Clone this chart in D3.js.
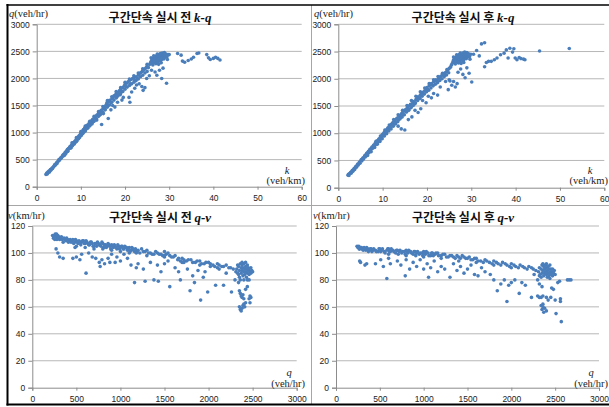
<!DOCTYPE html>
<html>
<head>
<meta charset="utf-8">
<script src="https://cdn.jsdelivr.net/npm/d3@7"></script>
<style>
  body { margin: 0; background: #fff; }
  svg { display: block; }
  .tick-lbl { font-family: "Liberation Sans", Arial, sans-serif; font-size: 8.5px; fill: #222; }
  .ttl { font-family: "Noto Sans CJK KR", sans-serif; font-size: 12px; font-weight: bold; fill: #111; }
  .unit { font-family: "Liberation Serif", serif; font-size: 10.5px; fill: #222; }
</style>
</head>
<body>
<div id="chart"></div>
<script>
// tick values
const kTicks = [0, 10, 20, 30, 40, 50, 60];
const qTicks = [0, 500, 1000, 1500, 2000, 2500, 3000];
const vTicks = [0, 20, 40, 60, 80, 100, 120];

// k (veh/km), q (veh/hr) before
const kqBefore = [
  [2.1,225],[2.2,240],[2.3,250],[2.4,235],[2.5,260],[2.6,275],[2.8,290],[2.9,270],[3.0,300],[3.1,315],[3.2,305],[3.4,330],
  [3.5,345],[3.6,335],[3.7,360],[3.9,375],[4.0,390],[4.1,410],[4.2,395],[4.4,425],[4.5,440],[4.6,430],[4.7,460],[4.9,470],
  [5.0,490],[5.1,505],[5.2,495],[5.4,520],[5.5,540],[5.6,530],[5.8,560],[5.9,575],[6.0,590],[6.1,570],[6.2,605],[6.4,620],
  [6.5,640],[6.6,615],[6.8,660],[6.9,675],[7.0,690],[7.1,665],[7.2,705],[7.4,720],[7.5,735],[7.6,710],[7.7,750],[7.9,765],
  [8.0,780],[8.1,755],[8.2,800],[8.3,815],[8.4,790],[8.6,830],[8.7,845],[8.8,820],[8.9,860],[9.0,880],[9.1,850],[9.2,895],
  [9.3,910],[9.4,880],[9.5,925],[9.6,940],[9.7,910],[9.8,955],[9.9,970],[10.0,990],[10.1,950],[10.2,1005],[10.3,1020],
  [10.4,985],[10.5,1040],[10.6,1055],[10.7,1010],[10.8,1070],[10.9,1085],[11.0,1100],[11.1,1050],[11.2,1110],[11.3,1125],
  [11.5,1140],[11.6,1090],[11.8,1160],[12.0,1180],[12.1,1140],[12.3,1200],[12.5,1225],[12.7,1245],[12.8,1200],[13.0,1270],
  [13.2,1290],[13.4,1250],[13.5,1310],[13.7,1330],[14.0,1360],[14.2,1320],[14.4,1390],[14.6,1410],[14.8,1370],[15.0,1440],
  [15.2,1460],[15.4,1480],[15.5,1430],[15.7,1510],[15.9,1540],[16.0,1560],[16.2,1500],[16.3,1580],[16.5,1595],[16.8,1550],
  [17.0,1620],[17.3,1650],[17.5,1680],[17.8,1690],[18.0,1720],[18.2,1660],[18.4,1740],[18.7,1770],[19.0,1800],[19.2,1760],
  [19.5,1830],[19.8,1860],[20.0,1890],[20.2,1850],[20.4,1910],[20.7,1940],[21.0,1960],[21.2,1900],[21.4,1980],[21.7,2000],
  [22.0,2010],[22.2,1960],[22.5,2030],[22.8,2000],[23.0,2060],[23.3,2090],[23.6,2110],[23.9,2130],[24.2,2150],[24.5,2180],
  [24.8,2200],[25.0,2230],
  [6.3,580],[7.0,650],[7.8,720],[8.5,790],[9.0,840],[9.5,890],[10.0,940],[10.5,990],[11.0,1030],[11.5,1080],[12.0,1120],
  [12.5,1170],[13.0,1210],[13.5,1260],[14.0,1300],[14.5,1340],[15.0,1380],[15.5,1420],[16.0,1470],[16.5,1510],[17.0,1560],
  [17.5,1600],[18.0,1640],[18.5,1690],[19.0,1720],[19.5,1760],[20.0,1800],[20.5,1840],[21.0,1870],[21.5,1900],[22.0,1930],
  [22.5,1960],[23.0,1990],[23.5,2030],[24.0,2060],[24.5,2100],[25.0,2130],
  [8.0,810],[9.0,910],[10.0,1020],[11.0,1120],[12.0,1210],[13.0,1300],[14.0,1390],[15.0,1480],[16.0,1590],[17.0,1660],
  [18.0,1760],[19.0,1830],[20.0,1930],[21.0,1990],[22.0,2050],[23.0,2100],[24.0,2180],[25.0,2260],[25.3,2200],
  [12.5,1160],[13.6,1230],[14.7,1150],[15.1,1350],[16.2,1260],[16.8,1420],[17.2,1500],[17.7,1470],[18.3,1560],[18.9,1700],
  [19.3,1600],[19.6,1650],[20.9,1650],[21.1,1560],[21.5,1750],[22.2,1820],[22.6,1880],[23.2,1900],[23.8,1850],[24.1,1780],
  [24.5,1830],[24.9,2000],[25.5,2050],[26.8,2120],[27.2,2060],[27.8,2150],[28.3,2000],[28.6,2190],[29.4,1910],[26.0,2150],
  [25.6,2260],[25.8,2300],[26.0,2330],[26.1,2280],[26.2,2360],[26.4,2310],[26.5,2380],[26.6,2340],[26.7,2290],[26.8,2400],
  [26.9,2350],[27.0,2320],[27.1,2420],[27.2,2380],[27.3,2340],[27.4,2300],[27.5,2440],[27.6,2400],[27.7,2360],[27.8,2420],
  [27.9,2330],[28.0,2460],[28.1,2390],[28.2,2430],[28.3,2350],[28.4,2470],[28.5,2410],[28.6,2380],[28.7,2440],[28.8,2360],
  [28.9,2480],[29.0,2420],[29.1,2390],[29.3,2450],[29.5,2400],[26.3,2250],[27.0,2270],[27.6,2260],[28.2,2290],[25.9,2380],
  [26.5,2420],[27.3,2450],[28.0,2320],[29.6,2350],[29.8,2440],[30.0,2440],
  [31.9,2460],[32.7,2430],[33.0,2320],[33.5,2300],[34.3,2330],[35.0,2360],[35.5,2390],[36.3,2460],[36.7,2470],[38.5,2440],
  [38.9,2380],[39.3,2350],[40.0,2370],[40.5,2390],[41.0,2370],[41.5,2340]
];

// k, q after
const kqAfter = [
  [2.2,230],[2.3,245],[2.4,225],[2.5,255],[2.7,270],[2.8,285],[2.9,265],[3.1,305],[3.2,320],[3.3,300],[3.5,340],[3.6,355],
  [3.7,335],[3.9,380],[4.0,395],[4.1,375],[4.3,420],[4.4,435],[4.5,415],[4.7,455],[4.8,470],[4.9,450],[5.1,500],[5.2,515],
  [5.3,490],[5.5,535],[5.6,550],[5.7,525],[5.9,575],[6.0,590],[6.1,565],[6.3,615],[6.4,630],[6.5,605],[6.7,650],[6.8,670],
  [6.9,640],[7.1,695],[7.2,710],[7.3,680],[7.5,730],[7.6,745],[7.7,720],[7.9,770],[8.0,785],[8.1,760],[8.3,805],[8.4,825],
  [8.5,795],[8.7,845],[8.8,860],[8.9,830],[9.1,885],[9.2,900],[9.3,870],[9.5,920],[9.6,940],[9.7,905],[9.9,960],[10.0,980],
  [10.1,950],[10.3,1005],[10.4,1020],[10.5,990],[10.7,1045],[10.8,1060],[10.9,1025],[11.1,1080],[11.2,1100],[11.3,1060],
  [11.5,1120],[11.7,1140],[11.8,1100],[12.0,1165],[12.2,1185],[12.3,1140],[12.5,1210],[12.7,1230],[12.9,1190],[13.1,1260],
  [13.3,1280],[13.5,1240],[13.7,1310],[13.9,1330],[14.1,1290],[14.3,1360],[14.5,1380],[14.7,1340],[14.9,1410],[15.1,1430],
  [15.3,1395],[15.5,1460],[15.7,1480],[15.9,1440],[16.1,1510],[16.3,1530],[16.5,1490],[16.8,1560],[17.0,1580],[17.3,1540],
  [17.5,1620],[17.8,1650],[18.0,1670],[18.3,1640],[18.5,1700],[18.8,1730],[19.0,1750],[19.3,1720],[19.5,1780],[19.8,1810],
  [20.0,1840],[20.3,1800],[20.5,1870],[20.8,1890],[21.0,1910],[21.3,1880],[21.5,1940],[21.8,1960],[22.0,1980],[22.3,1950],
  [22.6,2000],[22.9,2030],[23.2,2050],[23.5,2070],[23.8,2090],[24.1,2110],[24.4,2130],[24.7,2160],[25.0,2190],[25.3,2210],
  [6.6,590],[7.4,660],[8.2,740],[8.8,800],[9.4,850],[9.9,900],[10.4,950],[10.9,990],[11.4,1040],[11.9,1080],[12.4,1130],
  [12.9,1170],[13.4,1210],[13.9,1260],[14.4,1300],[14.9,1340],[15.4,1390],[15.9,1420],[16.4,1470],[16.9,1510],[17.4,1560],
  [17.9,1600],[18.4,1640],[18.9,1680],[19.4,1720],[19.9,1760],[20.4,1790],[20.9,1830],[21.4,1870],[21.9,1900],[22.4,1930],
  [22.9,1970],[23.4,2000],[23.9,2040],[24.4,2070],[24.9,2110],
  [8.5,850],[9.5,950],[10.5,1060],[11.5,1150],[12.5,1250],[13.5,1340],[14.5,1420],[15.5,1510],[16.5,1600],[17.5,1680],
  [18.5,1760],[19.5,1830],[20.5,1910],[21.5,1980],[22.5,2040],[23.5,2100],[24.5,2170],[25.5,2250],
  [13.5,1130],[14.2,1080],[15.0,1060],[15.8,1250],[16.6,1300],[17.3,1420],[18.0,1380],[18.6,1450],[19.0,1600],[19.8,1560],
  [20.3,1680],[21.0,1650],[21.5,1730],[22.4,1700],[23.0,1850],[24.2,1950],[24.8,1800],[25.2,1960],[25.6,1880],[26.0,1950],
  [26.4,1850],[27.0,2120],[27.6,2180],[28.1,2080],[28.6,2020],[29.0,2200],[30.1,1940],[29.5,2100],[25.0,1980],[26.8,1910],
  [25.7,2280],[25.9,2320],[26.0,2350],[26.2,2300],[26.3,2380],[26.5,2340],[26.6,2400],[26.7,2360],[26.8,2310],[26.9,2420],
  [27.0,2370],[27.1,2330],[27.2,2440],[27.3,2390],[27.4,2350],[27.5,2310],[27.6,2450],[27.7,2410],[27.8,2370],[27.9,2430],
  [28.0,2340],[28.1,2470],[28.2,2400],[28.3,2440],[28.4,2360],[28.5,2490],[28.6,2420],[28.7,2390],[28.8,2450],[28.9,2370],
  [29.0,2480],[29.1,2430],[29.2,2400],[29.4,2460],[29.6,2410],[26.4,2270],[27.1,2290],[27.7,2280],[28.3,2300],[26.0,2400],
  [26.7,2440],[27.5,2470],[28.2,2330],[29.7,2360],[29.9,2450],
  [30.5,2450],[31.2,2520],[31.8,2420],[32.3,2640],[33.0,2660],[33.0,2220],[33.4,2300],[33.9,2320],[34.5,2320],[35.2,2350],
  [35.8,2380],[36.6,2440],[37.4,2470],[37.9,2530],[38.3,2380],[38.7,2560],[39.3,2490],[39.6,2550],[39.9,2380],[40.3,2350],
  [40.8,2390],[41.2,2370],[41.8,2360],[42.1,2350],[45.4,2510],[52.1,2555]
];

// q (veh/hr), v (km/hr) before
const qvBefore = [
  [230,113],[240,111],[250,113],[260,114],[270,112],[280,110],[290,113],[300,112],[310,110],[320,111],[340,110],[360,111],
  [380,109],[400,110],[420,109],[440,108],[460,110],[480,108],[500,109],[520,107],[540,108],[560,108],[580,109],[600,107],
  [620,108],[640,106],[660,108],[680,107],[700,105],[720,107],[740,108],[760,106],[780,105],[800,107],[820,106],[840,104],
  [860,107],[880,105],[900,106],[920,104],[940,105],[960,103],[980,105],[1000,104],[1020,105],[1040,103],[1060,104],
  [1080,102],[1100,104],[1120,102],[1140,103],[1160,101],[1180,100],[1200,102],[1240,103],[1280,101],[1320,100],[1360,99],
  [1400,101],[1440,99],[1480,98],[1500,101],[1520,99],[1560,98],[1600,97],[1650,95],[1700,96],[1750,94],[1800,95],
  [1850,93],[1900,94],[1950,92],[2000,93],[2050,91],[2100,92],[2150,90],[2200,91],[2250,89],
  [255,110],[275,114],[295,111],[330,112],[350,108],[370,110],[390,111],[410,108],[430,110],[450,109],[470,107],[490,110],
  [510,108],[530,109],[550,106],[570,109],[590,107],[610,109],[630,107],[650,106],[670,108],[690,105],[710,107],[730,105],
  [750,107],[770,106],[790,108],[810,104],[830,106],[850,105],[870,106],[890,103],[910,105],[930,106],[950,104],[970,106],
  [990,103],[1010,105],[1030,103],[1050,105],[1070,104],[1090,103],[1110,101],[1130,104],[1150,102],[1170,103],[1190,101],
  [1220,100],[1260,101],[1300,102],[1340,100],[1380,99],[1420,100],[1460,99],[1500,98],[1540,100],[1580,97],[1620,98],
  [1660,96],[1680,94],[1720,95],[1770,95],[1820,93],[1870,94],[1920,92],[1970,93],[2020,92],[2070,90],[2120,91],[2170,90],
  [2230,89],[2280,88],
  [500,105],[700,103],[900,102],[1100,100],[1300,98],[1500,97],[1700,93],[1900,91],[2100,89],[600,104],[800,103],[1000,101],
  [270,103],[290,100],[310,97],[350,96],[460,96],[485,104],[500,97],[540,95],[560,99],[610,85],[640,100],[680,97],[720,96],
  [760,93],[770,90],[790,95],[820,92],[860,96],[880,93],[900,99],[940,93],[960,97],[1000,94],[1040,99],[1080,96],[1120,91],
  [1160,78],[1180,89],[1200,92],[1260,88],[1280,79],[1340,93],[1380,80],[1420,91],[1430,79],[1460,86],[1500,92],[1540,94],
  [1560,75],[1620,89],[1660,86],[1680,80],[1720,93],[1760,88],[1790,72],[1820,83],[1840,78],[1880,87],[1910,65],[1940,82],
  [1960,86],[1990,71],[2020,90],[2080,76],[2120,88],[2170,76],[2200,85],[2260,71],[2300,80],
  [2320,88],[2330,85],[2340,90],[2350,87],[2350,82],[2360,92],[2370,89],[2370,85],[2380,91],[2380,87],[2390,83],[2390,89],
  [2400,86],[2400,92],[2410,88],[2410,84],[2420,90],[2420,86],[2430,88],[2430,82],[2440,91],[2440,85],[2450,87],[2450,89],
  [2460,84],[2460,88],[2470,86],[2480,89],[2480,85],[2490,87],[2500,86],[2340,84],[2360,80],[2310,86],[2330,91],[2400,80],
  [2420,93],[2380,93],[2440,80],
  [2340,78],[2350,72],[2360,70],[2370,68],[2380,67],[2390,69],[2400,66],[2350,60],[2360,58],[2370,57],[2380,59],[2390,61],
  [2400,62],[2410,60],[2420,63],[2460,66],[2470,68],[2480,67],[2470,63],[2440,75],[2460,80],[2420,73]
];

// q, v after
const qvAfter = [
  [240,105],[250,104],[260,105],[270,103],[280,104],[300,103],[320,104],[340,102],[360,103],[380,102],[400,103],[420,102],
  [450,102],[480,101],[500,103],[520,102],[550,101],[580,102],[600,103],[620,101],[650,102],[680,100],[700,102],[720,101],
  [750,100],[780,101],[800,102],[820,100],[850,101],[880,99],[900,101],[920,100],[950,99],[980,100],[1000,101],[1020,99],
  [1050,100],[1080,98],[1100,100],[1130,99],[1160,100],[1200,98],[1240,99],[1280,97],[1320,98],[1360,96],[1400,97],
  [1440,98],[1480,96],[1520,97],[1560,95],[1600,96],[1650,94],[1700,95],[1750,93],[1800,94],[1850,92],[1900,93],[1950,91],
  [2000,92],[2050,90],[2100,91],[2150,89],[2200,90],[2250,88],[600,99],[800,98],[1000,97],[1200,96],[1400,94],[1600,93],
  [1800,91],[2000,89],
  [255,104],[265,103],[290,104],[310,102],[330,103],[350,104],[370,101],[390,103],[410,101],[430,103],[460,101],[490,103],
  [510,101],[530,103],[560,100],[590,103],[610,101],[630,103],[660,101],[690,102],[710,99],[730,102],[760,101],[790,99],
  [810,101],[830,102],[860,100],[890,101],[910,98],[930,101],[960,100],[990,98],[1010,100],[1030,101],[1060,98],[1090,100],
  [1110,98],[1140,100],[1170,98],[1220,99],[1260,97],[1300,98],[1340,97],[1380,98],[1420,96],[1460,97],[1500,96],[1540,95],
  [1580,96],[1620,94],[1680,93],[1720,94],[1780,92],[1830,93],[1880,91],[1930,92],[1980,90],[2030,91],[2080,89],[2130,90],
  [2180,88],[2230,89],[2280,87],
  [270,94],[280,93],[330,91],[350,92],[450,92],[510,95],[540,90],[580,81],[600,96],[620,92],[700,94],[740,91],[790,83],
  [800,95],[840,88],[880,93],[920,90],[960,95],[1000,88],[1040,92],[1056,82],[1080,89],[1120,94],[1160,86],[1200,90],
  [1240,88],[1300,82],[1340,92],[1380,87],[1420,90],[1460,85],[1500,88],[1540,91],[1580,84],[1620,83],[1660,89],[1700,86],
  [1760,84],[1800,80],[1840,72],[1880,77],[1920,80],[1950,64],[1970,76],[2000,78],[2040,80],[2090,70],[2120,78],[2160,76],
  [2230,67],[2260,84],
  [2310,86],[2320,89],[2330,84],[2340,88],[2350,91],[2350,85],[2360,87],[2370,90],[2370,83],[2380,88],[2380,85],[2390,91],
  [2390,86],[2400,84],[2400,89],[2410,87],[2410,82],[2420,90],[2420,85],[2430,88],[2430,83],[2440,86],[2440,91],[2450,84],
  [2450,88],[2460,86],[2470,83],[2470,88],[2480,85],[2490,87],[2500,84],[2340,82],[2360,92],[2400,92],[2440,81],[2320,83],
  [2300,80],[2320,77],[2350,75],[2300,68],[2320,67],[2340,67],[2360,68],[2400,67],[2420,65],[2340,61],[2350,58],[2360,60],
  [2370,56],[2380,59],[2360,62],[2400,57],[2450,67],[2460,74],[2480,73],[2500,65],[2510,55],[2530,78],[2550,79],[2560,64],
  [2570,49],[2560,66],[2640,80],[2660,80],[2680,80]
];

const W = 609, H = 407;
const svg = d3.select('#chart').append('svg')
  .attr('width', W).attr('height', H);

// frame + dividers
svg.append('line').attr('x1', 311.5).attr('x2', 311.5).attr('y1', 5).attr('y2', 404)
  .attr('stroke', '#a6a6a6').attr('stroke-width', 1);
svg.append('line').attr('x1', 7).attr('x2', W).attr('y1', 205.5).attr('y2', 205.5)
  .attr('stroke', '#a6a6a6').attr('stroke-width', 1);
svg.append('line').attr('x1', 7.5).attr('x2', 7.5).attr('y1', 4).attr('y2', 405.5)
  .attr('stroke', '#000').attr('stroke-width', 2);
svg.append('line').attr('x1', 6.5).attr('x2', W).attr('y1', 5).attr('y2', 5)
  .attr('stroke', '#000').attr('stroke-width', 1.5);
svg.append('line').attr('x1', 6.5).attr('x2', W).attr('y1', 404.5).attr('y2', 404.5)
  .attr('stroke', '#000').attr('stroke-width', 2);

const panels = [
  { x0: 36.7, x1: 301.7, y0: 186.7, y1: 24.3, xDom: [0, 60], yDom: [0, 3000], xt: kTicks, yt: qTicks,
    data: kqBefore, title: ['구간단속 실시 전 ', 'k-q'], tx: 160, ty: 22,
    yl: ['q', '(veh/hr)'], ylx: 9, yly: 17, xl: 'k', xlx: 287, xly: 174, xu: '(veh/km)', xux: 305, xuy: 184 },
  { x0: 338.3, x1: 604.3, y0: 187.7, y1: 24.3, xDom: [0, 60], yDom: [0, 3000], xt: kTicks, yt: qTicks,
    data: kqAfter, title: ['구간단속 실시 후 ', 'k-q'], tx: 463, ty: 22,
    yl: ['q', '(veh/hr)'], ylx: 314, yly: 17, xl: 'k', xlx: 590, xly: 174, xu: '(veh/km)', xux: 608, xuy: 184 },
  { x0: 32.3, x1: 296.7, y0: 387.7, y1: 226, xDom: [0, 3000], yDom: [0, 120], xt: qTicks, yt: vTicks,
    data: qvBefore, title: ['구간단속 실시 전 ', 'q-v'], tx: 160, ty: 222,
    yl: ['v', '(km/hr)'], ylx: 8, yly: 219, xl: 'q', xlx: 289, xly: 376, xu: '(veh/hr)', xux: 305, xuy: 387 },
  { x0: 336, x1: 599, y0: 387.7, y1: 226, xDom: [0, 3000], yDom: [0, 120], xt: qTicks, yt: vTicks,
    data: qvAfter, title: ['구간단속 실시 후 ', 'q-v'], tx: 463, ty: 222,
    yl: ['v', '(km/hr)'], ylx: 313, yly: 219, xl: 'q', xlx: 591, xly: 376, xu: '(veh/hr)', xux: 608, xuy: 387 }
];

const fmt = d3.format('d');

panels.forEach(p => {
  const x = d3.scaleLinear().domain(p.xDom).range([p.x0, p.x1]);
  const y = d3.scaleLinear().domain(p.yDom).range([p.y0, p.y1]);
  const g = svg.append('g');

  // gridlines
  g.selectAll('.grid').data(p.yt.filter(t => t > 0)).enter().append('line')
    .attr('x1', p.x0).attr('x2', p.x1)
    .attr('y1', d => y(d)).attr('y2', d => y(d))
    .attr('stroke', '#b7b7b7').attr('stroke-width', 1);

  // axes
  const ya = g.append('g').attr('transform', `translate(${p.x0},0)`)
    .call(d3.axisLeft(y).tickValues(p.yt).tickFormat(fmt).tickSize(4).tickPadding(3));
  const xa = g.append('g').attr('transform', `translate(0,${p.y0})`)
    .call(d3.axisBottom(x).tickValues(p.xt).tickFormat(fmt).tickSize(3).tickPadding(5));
  [ya, xa].forEach(a => {
    a.select('.domain').attr('stroke', '#8c8c8c');
    a.selectAll('.tick line').attr('stroke', '#8c8c8c');
    a.selectAll('.tick text').attr('class', 'tick-lbl').attr('fill', '#222');
  });

  // points
  g.selectAll('.pt').data(p.data).enter().append('circle')
    .attr('cx', d => x(d[0])).attr('cy', d => y(d[1]))
    .attr('r', 1.8).attr('fill', '#4a7ebb');

  // title
  const t = g.append('text').attr('class', 'ttl').attr('x', p.tx).attr('y', p.ty)
    .attr('text-anchor', 'middle');
  t.append('tspan').text(p.title[0]);
  t.append('tspan').attr('font-family', '"Liberation Serif", serif').attr('font-style', 'italic')
    .attr('font-size', '13px').text(p.title[1]);

  // axis labels
  const yl = g.append('text').attr('class', 'unit').attr('x', p.ylx).attr('y', p.yly);
  yl.append('tspan').attr('font-style', 'italic').text(p.yl[0]);
  yl.append('tspan').text(p.yl[1]);
  g.append('text').attr('class', 'unit').attr('x', p.xlx).attr('y', p.xly)
    .attr('font-style', 'italic').attr('text-anchor', 'middle').text(p.xl);
  g.append('text').attr('class', 'unit').attr('x', p.xux).attr('y', p.xuy)
    .attr('text-anchor', 'end').text(p.xu);
});
</script>
</body>
</html>
